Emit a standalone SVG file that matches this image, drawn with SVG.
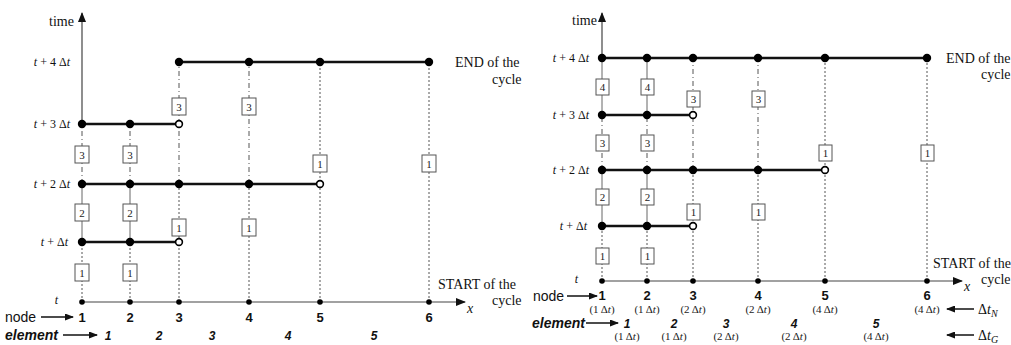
<svg xmlns="http://www.w3.org/2000/svg" width="1011" height="345" viewBox="0 0 1011 345">
<style>
.seg{stroke:#111;stroke-width:2.4;fill:none}
.sol{stroke:#666;stroke-width:1;fill:none}
.dot{stroke:#555;stroke-width:1;stroke-dasharray:2 2;fill:none}
.dd{stroke:#555;stroke-width:1;stroke-dasharray:5 3 1 3;fill:none}
.ax{stroke:#444;stroke-width:1.2;fill:none}
.arr{stroke:#111;stroke-width:1.5;fill:none}
.f{fill:#000}
.o{fill:#fff;stroke:#000;stroke-width:1.6}
.box{fill:#fff;stroke:#555;stroke-width:1}
.bt{font-family:"Liberation Serif",serif;font-size:11px;fill:#222;text-anchor:middle}
.ser{font-family:"Liberation Serif",serif;font-size:14px;fill:#111}
.rl{font-family:"Liberation Serif",serif;font-size:12px;fill:#111;text-anchor:end}
.it{font-style:italic}
.nd{font-family:"Liberation Sans",Arial,sans-serif;font-size:13px;font-weight:bold;fill:#111;text-anchor:middle}
.el{font-family:"Liberation Sans",Arial,sans-serif;font-size:12px;font-weight:bold;font-style:italic;fill:#111;text-anchor:middle}
.lab{font-family:"Liberation Sans",Arial,sans-serif;font-size:14px;fill:#111}
.sm{font-family:"Liberation Serif",serif;font-size:11px;fill:#222;text-anchor:middle}
</style>
<defs>
<marker id="ah" markerWidth="10" markerHeight="8" refX="9" refY="4" orient="auto" markerUnits="userSpaceOnUse">
<path d="M0,0 L10,4 L0,8 Z" fill="#111"/>
</marker>
<marker id="ah2" markerWidth="9" markerHeight="7" refX="8" refY="3.5" orient="auto" markerUnits="userSpaceOnUse">
<path d="M0,0 L9,3.5 L0,7 Z" fill="#111"/>
</marker>
</defs>

<!-- ================= LEFT PANEL ================= -->
<g id="connectors-left">
<line class="ax" x1="82" y1="124" x2="82" y2="13" marker-end="url(#ah)"/>
<line class="ax" x1="82" y1="302" x2="465" y2="302" marker-end="url(#ah)"/>
<line class="dot" x1="82" y1="302" x2="82" y2="242"/>
<line class="sol" x1="82" y1="242" x2="82" y2="184"/>
<line class="dd" x1="82" y1="184" x2="82" y2="124"/>
<line class="dot" x1="130" y1="302" x2="130" y2="242"/>
<line class="sol" x1="130" y1="242" x2="130" y2="184"/>
<line class="dd" x1="130" y1="184" x2="130" y2="124"/>
<line class="dot" x1="179" y1="302" x2="179" y2="184"/>
<line class="dd" x1="179" y1="184" x2="179" y2="62"/>
<line class="dot" x1="249" y1="302" x2="249" y2="184"/>
<line class="dd" x1="249" y1="184" x2="249" y2="62"/>
<line class="dot" x1="320" y1="302" x2="320" y2="62"/>
<line class="dot" x1="429" y1="302" x2="429" y2="62"/>
<line class="seg" x1="179" y1="62" x2="429" y2="62"/>
<line class="seg" x1="82" y1="124" x2="179" y2="124"/>
<line class="seg" x1="82" y1="184" x2="320" y2="184"/>
<line class="seg" x1="82" y1="242" x2="179" y2="242"/>
<line class="arr" x1="41" y1="317" x2="73" y2="317" marker-end="url(#ah2)"/>
<line class="arr" x1="63" y1="335" x2="97" y2="335" marker-end="url(#ah2)"/>
</g>

<g id="nodes-left">
<g id="L-t4">
<circle class="f" cx="179" cy="62" r="4.2"/><circle class="f" cx="249" cy="62" r="4.2"/><circle class="f" cx="320" cy="62" r="4.2"/><circle class="f" cx="429" cy="62" r="4.2"/>
</g>
<g id="L-t3">
<circle class="f" cx="82" cy="124" r="4.2"/><circle class="f" cx="130" cy="124" r="4.2"/><circle class="o" cx="179" cy="124" r="3.4"/>
</g>
<g id="L-t2">
<circle class="f" cx="82" cy="184" r="4.2"/><circle class="f" cx="130" cy="184" r="4.2"/><circle class="f" cx="179" cy="184" r="4.2"/><circle class="f" cx="249" cy="184" r="4.2"/><circle class="o" cx="320" cy="184" r="3.4"/>
</g>
<g id="L-t1">
<circle class="f" cx="82" cy="242" r="4.2"/><circle class="f" cx="130" cy="242" r="4.2"/><circle class="o" cx="179" cy="242" r="3.4"/>
</g>
<g id="L-t0">
<circle class="f" cx="82" cy="302" r="2.8"/><circle class="f" cx="130" cy="302" r="2.8"/><circle class="f" cx="179" cy="302" r="2.8"/><circle class="f" cx="249" cy="302" r="2.8"/><circle class="f" cx="320" cy="302" r="2.8"/><circle class="f" cx="429" cy="302" r="2.8"/>
</g>
<g id="L-boxes">
<rect class="box" x="75" y="264" width="14" height="17"/><text class="bt" x="82" y="277">1</text>
<rect class="box" x="123" y="264" width="14" height="17"/><text class="bt" x="130" y="277">1</text>
<rect class="box" x="75" y="204" width="14" height="17"/><text class="bt" x="82" y="217">2</text>
<rect class="box" x="123" y="204" width="14" height="17"/><text class="bt" x="130" y="217">2</text>
<rect class="box" x="75" y="146" width="14" height="17"/><text class="bt" x="82" y="159">3</text>
<rect class="box" x="123" y="146" width="14" height="17"/><text class="bt" x="130" y="159">3</text>
<rect class="box" x="172" y="219" width="14" height="17"/><text class="bt" x="179" y="232">1</text>
<rect class="box" x="242" y="219" width="14" height="17"/><text class="bt" x="249" y="232">1</text>
<rect class="box" x="172" y="98" width="14" height="17"/><text class="bt" x="179" y="111">3</text>
<rect class="box" x="242" y="98" width="14" height="17"/><text class="bt" x="249" y="111">3</text>
<rect class="box" x="313" y="155" width="14" height="17"/><text class="bt" x="320" y="168">1</text>
<rect class="box" x="422" y="155" width="14" height="17"/><text class="bt" x="429" y="168">1</text>
</g>
<g id="L-text">
<text class="ser" x="49" y="26">time</text>
<text class="rl" x="70" y="66"><tspan class="it">t</tspan> + 4 Δ<tspan class="it">t</tspan></text>
<text class="rl" x="70" y="128"><tspan class="it">t</tspan> + 3 Δ<tspan class="it">t</tspan></text>
<text class="rl" x="70" y="188"><tspan class="it">t</tspan> + 2 Δ<tspan class="it">t</tspan></text>
<text class="rl" x="68" y="246"><tspan class="it">t</tspan> + Δ<tspan class="it">t</tspan></text>
<text class="rl it" x="58" y="304">t</text>
<text class="ser" x="455" y="67">END of the</text>
<text class="ser" x="492" y="84">cycle</text>
<text class="ser" x="438" y="289">START of the</text>
<text class="ser" x="492" y="305">cycle</text>
<text class="ser it" x="467" y="313">x</text>
<text class="lab" x="5" y="322">node</text>
<text class="lab it" x="5" y="340" font-weight="bold">element</text>
<text class="nd" x="82" y="322">1</text><text class="nd" x="130" y="322">2</text><text class="nd" x="179" y="322">3</text><text class="nd" x="249" y="322">4</text><text class="nd" x="320" y="322">5</text><text class="nd" x="429" y="322">6</text>
<text class="el" x="108" y="340">1</text><text class="el" x="159" y="340">2</text><text class="el" x="212" y="340">3</text><text class="el" x="288" y="340">4</text><text class="el" x="374" y="340">5</text>
</g>
</g>

<!-- ================= RIGHT PANEL ================= -->
<g id="connectors-right">
<line class="ax" x1="602" y1="58" x2="602" y2="13" marker-end="url(#ah)"/>
<line class="ax" x1="602" y1="281" x2="962" y2="281" marker-end="url(#ah)"/>
<line class="dot" x1="602" y1="281" x2="602" y2="226"/>
<line class="sol" x1="602" y1="226" x2="602" y2="170"/>
<line class="dd" x1="602" y1="170" x2="602" y2="115"/>
<line class="sol" x1="602" y1="115" x2="602" y2="58"/>
<line class="dot" x1="647" y1="281" x2="647" y2="226"/>
<line class="sol" x1="647" y1="226" x2="647" y2="170"/>
<line class="dd" x1="647" y1="170" x2="647" y2="115"/>
<line class="sol" x1="647" y1="115" x2="647" y2="58"/>
<line class="dot" x1="693" y1="281" x2="693" y2="170"/>
<line class="dd" x1="693" y1="170" x2="693" y2="58"/>
<line class="dot" x1="758" y1="281" x2="758" y2="170"/>
<line class="dd" x1="758" y1="170" x2="758" y2="58"/>
<line class="dot" x1="825" y1="281" x2="825" y2="58"/>
<line class="dot" x1="927" y1="281" x2="927" y2="58"/>
<line class="seg" x1="602" y1="58" x2="927" y2="58"/>
<line class="seg" x1="602" y1="115" x2="693" y2="115"/>
<line class="seg" x1="602" y1="170" x2="825" y2="170"/>
<line class="seg" x1="602" y1="226" x2="693" y2="226"/>
<line class="arr" x1="567" y1="296" x2="597" y2="296" marker-end="url(#ah2)"/>
<line class="arr" x1="586" y1="323" x2="618" y2="323" marker-end="url(#ah2)"/>
<line class="arr" x1="974" y1="309" x2="947" y2="309" marker-end="url(#ah2)"/>
<line class="arr" x1="974" y1="335" x2="947" y2="335" marker-end="url(#ah2)"/>
</g>

<g id="nodes-right">
<g id="R-t4">
<circle class="f" cx="602" cy="58" r="4.2"/><circle class="f" cx="647" cy="58" r="4.2"/><circle class="f" cx="693" cy="58" r="4.2"/><circle class="f" cx="758" cy="58" r="4.2"/><circle class="f" cx="825" cy="58" r="4.2"/><circle class="f" cx="927" cy="58" r="4.2"/>
</g>
<g id="R-t3">
<circle class="f" cx="602" cy="115" r="4.2"/><circle class="f" cx="647" cy="115" r="4.2"/><circle class="o" cx="693" cy="115" r="3.4"/>
</g>
<g id="R-t2">
<circle class="f" cx="602" cy="170" r="4.2"/><circle class="f" cx="647" cy="170" r="4.2"/><circle class="f" cx="693" cy="170" r="4.2"/><circle class="f" cx="758" cy="170" r="4.2"/><circle class="o" cx="825" cy="170" r="3.4"/>
</g>
<g id="R-t1">
<circle class="f" cx="602" cy="226" r="4.2"/><circle class="f" cx="647" cy="226" r="4.2"/><circle class="o" cx="693" cy="226" r="3.4"/>
</g>
<g id="R-t0">
<circle class="f" cx="602" cy="281" r="2.8"/><circle class="f" cx="647" cy="281" r="2.8"/><circle class="f" cx="693" cy="281" r="2.8"/><circle class="f" cx="758" cy="281" r="2.8"/><circle class="f" cx="825" cy="281" r="2.8"/><circle class="f" cx="927" cy="281" r="2.8"/>
</g>
<g id="R-boxes">
<rect class="box" x="596" y="248" width="13" height="16"/><text class="bt" x="602.5" y="260">1</text>
<rect class="box" x="641" y="248" width="13" height="16"/><text class="bt" x="647.5" y="260">1</text>
<rect class="box" x="596" y="189" width="13" height="16"/><text class="bt" x="602.5" y="201">2</text>
<rect class="box" x="641" y="189" width="13" height="16"/><text class="bt" x="647.5" y="201">2</text>
<rect class="box" x="596" y="135" width="13" height="16"/><text class="bt" x="602.5" y="147">3</text>
<rect class="box" x="641" y="135" width="13" height="16"/><text class="bt" x="647.5" y="147">3</text>
<rect class="box" x="596" y="79" width="13" height="16"/><text class="bt" x="602.5" y="91">4</text>
<rect class="box" x="641" y="79" width="13" height="16"/><text class="bt" x="647.5" y="91">4</text>
<rect class="box" x="687" y="204" width="13" height="16"/><text class="bt" x="693.5" y="216">1</text>
<rect class="box" x="752" y="204" width="13" height="16"/><text class="bt" x="758.5" y="216">1</text>
<rect class="box" x="687" y="91" width="13" height="16"/><text class="bt" x="693.5" y="103">3</text>
<rect class="box" x="752" y="91" width="13" height="16"/><text class="bt" x="758.5" y="103">3</text>
<rect class="box" x="819" y="145" width="13" height="16"/><text class="bt" x="825.5" y="157">1</text>
<rect class="box" x="921" y="145" width="13" height="16"/><text class="bt" x="927.5" y="157">1</text>
</g>
<g id="R-text">
<text class="ser" x="572" y="25" font-size="13">time</text>
<text class="rl" x="589" y="62"><tspan class="it">t</tspan> + 4 Δ<tspan class="it">t</tspan></text>
<text class="rl" x="589" y="119"><tspan class="it">t</tspan> + 3 Δ<tspan class="it">t</tspan></text>
<text class="rl" x="589" y="174"><tspan class="it">t</tspan> + 2 Δ<tspan class="it">t</tspan></text>
<text class="rl" x="587" y="230"><tspan class="it">t</tspan> + Δ<tspan class="it">t</tspan></text>
<text class="rl it" x="578" y="283">t</text>
<text class="ser" x="946" y="63" font-size="13">END of the</text>
<text class="ser" x="981" y="79" font-size="13">cycle</text>
<text class="ser" x="933" y="268" font-size="13">START of the</text>
<text class="ser" x="981" y="284" font-size="13">cycle</text>
<text class="ser it" x="964" y="291">x</text>
<text class="lab" x="533" y="301" font-size="13">node</text>
<text class="lab it" x="532" y="328" font-size="13" font-weight="bold">element</text>
<text class="nd" x="602" y="300" font-size="12">1</text><text class="nd" x="647" y="300" font-size="12">2</text><text class="nd" x="693" y="300" font-size="12">3</text><text class="nd" x="758" y="300" font-size="12">4</text><text class="nd" x="825" y="300" font-size="12">5</text><text class="nd" x="927" y="300" font-size="12">6</text>
<text class="sm" x="602" y="313">(1 Δ<tspan class="it">t</tspan>)</text>
<text class="sm" x="647" y="313">(1 Δ<tspan class="it">t</tspan>)</text>
<text class="sm" x="693" y="313">(2 Δ<tspan class="it">t</tspan>)</text>
<text class="sm" x="758" y="313">(2 Δ<tspan class="it">t</tspan>)</text>
<text class="sm" x="825" y="313">(4 Δ<tspan class="it">t</tspan>)</text>
<text class="sm" x="927" y="313">(4 Δ<tspan class="it">t</tspan>)</text>
<text class="el" x="627" y="328" font-size="11">1</text><text class="el" x="674" y="328" font-size="11">2</text><text class="el" x="726" y="328" font-size="11">3</text><text class="el" x="794" y="328" font-size="11">4</text><text class="el" x="876" y="328" font-size="11">5</text>
<text class="sm" x="627" y="340">(1 Δ<tspan class="it">t</tspan>)</text>
<text class="sm" x="674" y="340">(1 Δ<tspan class="it">t</tspan>)</text>
<text class="sm" x="726" y="340">(2 Δ<tspan class="it">t</tspan>)</text>
<text class="sm" x="794" y="340">(2 Δ<tspan class="it">t</tspan>)</text>
<text class="sm" x="876" y="340">(4 Δ<tspan class="it">t</tspan>)</text>
<text class="ser" x="978" y="314" font-size="15">Δ<tspan class="it">t</tspan><tspan class="it" font-size="10" dy="3">N</tspan></text>
<text class="ser" x="978" y="340" font-size="15">Δ<tspan class="it">t</tspan><tspan class="it" font-size="10" dy="3">G</tspan></text>
</g>
</g>
</svg>
